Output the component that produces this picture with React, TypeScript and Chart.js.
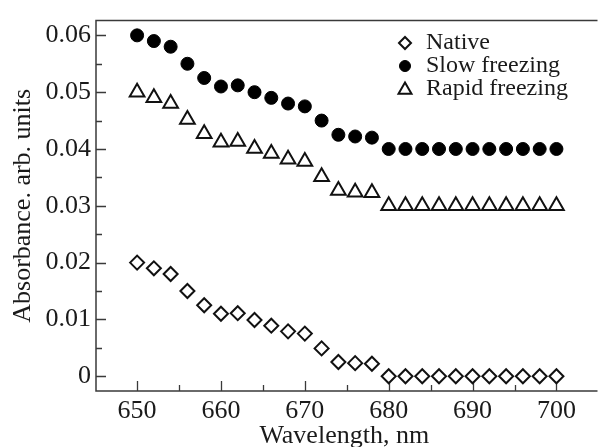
import React, { useEffect, useRef } from 'react';
import { Chart, registerables } from 'chart.js';
import { drawPoint } from 'chart.js/helpers';

Chart.register(...registerables);

const wavelengths = [650, 652, 654, 656, 658, 660, 662, 664, 666, 668, 670, 672, 674, 676, 678, 680, 682, 684, 686, 688, 690, 692, 694, 696, 698, 700];
const nativeValues = [0.02, 0.019, 0.018, 0.015, 0.0125, 0.011, 0.0111, 0.0099, 0.0089, 0.0079, 0.0075, 0.0049, 0.0025, 0.0023, 0.0022, 0, 0, 0, 0, 0, 0, 0, 0, 0, 0, 0];
const slowValues = [0.06, 0.059, 0.058, 0.055, 0.0525, 0.051, 0.0512, 0.05, 0.049, 0.048, 0.0475, 0.045, 0.0425, 0.0422, 0.042, 0.04, 0.04, 0.04, 0.04, 0.04, 0.04, 0.04, 0.04, 0.04, 0.04, 0.04];
const rapidValues = [0.05, 0.049, 0.048, 0.0452, 0.0427, 0.0412, 0.0413, 0.0401, 0.0392, 0.0382, 0.0378, 0.0351, 0.0327, 0.0324, 0.0323, 0.03, 0.03, 0.03, 0.03, 0.03, 0.03, 0.03, 0.03, 0.03, 0.03, 0.03];

const seriesNames = ['Native', 'Slow freezing', 'Rapid freezing'];
const xTickValues = [650, 660, 670, 680, 690, 700];
const xMinorTicks = [655, 665, 675, 685, 695];
const yTickValues = [0, 0.01, 0.02, 0.03, 0.04, 0.05, 0.06];
const yTickLabels = ['0', '0.01', '0.02', '0.03', '0.04', '0.05', '0.06'];
const yMinorTicks = [0.005, 0.015, 0.025, 0.035, 0.045, 0.055];

const FONT = '"Liberation Serif", "Times New Roman", serif';
const AXIS = '#3a3a3a';

const styles = [
  { pointStyle: 'rectRot', radius: 7, fill: '#ffffff', border: '#111111', bw: 2 },
  { pointStyle: 'circle', radius: 6.5, fill: '#000000', border: '#000000', bw: 1 },
  { pointStyle: 'triangle', radius: 8.5, fill: '#ffffff', border: '#111111', bw: 2 },
];

const framePlugin = {
  id: 'frame',
  beforeDatasetsDraw(chart: any) {
    const { ctx, chartArea } = chart;
    const xs = chart.scales.x;
    const ys = chart.scales.y;
    ctx.save();
    ctx.strokeStyle = AXIS;
    ctx.lineWidth = 1.5;
    ctx.beginPath();
    ctx.moveTo(chartArea.right + 5, chartArea.top);
    ctx.lineTo(chartArea.left, chartArea.top);
    ctx.lineTo(chartArea.left, chartArea.bottom);
    ctx.lineTo(chartArea.right + 5, chartArea.bottom);
    ctx.stroke();
    ctx.lineWidth = 1.3;
    ctx.beginPath();
    xTickValues.forEach((v) => {
      const px = Math.round(xs.getPixelForValue(v)) + 0.5;
      ctx.moveTo(px, chartArea.bottom);
      ctx.lineTo(px, chartArea.bottom - 10);
    });
    xMinorTicks.forEach((v) => {
      const px = Math.round(xs.getPixelForValue(v)) + 0.5;
      ctx.moveTo(px, chartArea.bottom);
      ctx.lineTo(px, chartArea.bottom - 6);
    });
    yTickValues.forEach((v) => {
      const py = Math.round(ys.getPixelForValue(v)) + 0.5;
      ctx.moveTo(chartArea.left, py);
      ctx.lineTo(chartArea.left + 10, py);
    });
    yMinorTicks.forEach((v) => {
      const py = Math.round(ys.getPixelForValue(v)) + 0.5;
      ctx.moveTo(chartArea.left, py);
      ctx.lineTo(chartArea.left + 6, py);
    });
    ctx.stroke();
    ctx.restore();
  },
  afterDraw(chart: any) {
    const { ctx } = chart;
    ctx.save();
    const mx = 405;
    const tx = 426;
    const rows = [43, 66, 89];
    ctx.font = `24px ${FONT}`;
    ctx.fillStyle = '#1a1a1a';
    ctx.textBaseline = 'middle';
    ctx.textAlign = 'left';
    seriesNames.forEach((name, i) => {
      const s = styles[i];
      ctx.fillStyle = s.fill;
      ctx.strokeStyle = s.border;
      ctx.lineWidth = s.bw;
      drawPoint(ctx, { pointStyle: s.pointStyle as any, radius: s.radius - 1, rotation: 0, borderWidth: s.bw }, mx, rows[i] + (i === 2 ? 1 : 0));
      ctx.fillStyle = '#1a1a1a';
      ctx.fillText(name, tx, rows[i]);
    });
    ctx.restore();
  },
};

export default function App() {
  const ref = useRef<HTMLCanvasElement>(null);
  useEffect(() => {
    if (!ref.current) return;
    const seriesValues = [nativeValues, slowValues, rapidValues];
    const chart = new Chart(ref.current, {
      type: 'scatter',
      data: {
        datasets: seriesNames.map((name, i) => ({
          label: name,
          data: wavelengths.map((w, j) => ({ x: w, y: seriesValues[i][j] })),
          pointStyle: styles[i].pointStyle as any,
          pointRadius: styles[i].radius,
          pointBackgroundColor: styles[i].fill,
          pointBorderColor: styles[i].border,
          pointBorderWidth: styles[i].bw,
          showLine: false,
          clip: false as any,
        })),
      },
      options: {
        responsive: false,
        animation: false,
        layout: { padding: { top: 12, left: 0, right: 0, bottom: 0 } },
        plugins: { legend: { display: false }, tooltip: { enabled: false } },
        scales: {
          x: {
            type: 'linear',
            min: 645.1,
            max: 704.3,
            grid: { display: false, drawTicks: false },
            border: { display: false },
            afterFit: (s: any) => { s.height = 56; },
            afterBuildTicks: (s: any) => { s.ticks = xTickValues.map((v) => ({ value: v })); },
            ticks: {
              autoSkip: false,
              maxRotation: 0,
              padding: 5,
              color: '#1a1a1a',
              font: { family: FONT, size: 26 },
              callback: (v: any) => String(v),
            },
            title: {
              display: true,
              text: 'Wavelength, nm',
              color: '#1a1a1a',
              font: { family: FONT, size: 26, lineHeight: 0.8 },
              padding: { top: 0, bottom: 0 },
            },
          },
          y: {
            type: 'linear',
            min: -0.0026,
            max: 0.0626,
            grid: { display: false, drawTicks: false },
            border: { display: false },
            afterFit: (s: any) => { s.width = 96; },
            afterBuildTicks: (s: any) => { s.ticks = yTickValues.map((v) => ({ value: v })); },
            ticks: {
              autoSkip: false,
              padding: 5,
              color: '#1a1a1a',
              font: { family: FONT, size: 26 },
              callback: (v: any) => {
                const idx = yTickValues.findIndex((t) => Math.abs(t - v) < 1e-9);
                return idx >= 0 ? yTickLabels[idx] : '';
              },
            },
            title: {
              display: true,
              text: 'Absorbance. arb. units',
              color: '#1a1a1a',
              font: { family: FONT, size: 26, lineHeight: 1 },
              padding: { top: 10, bottom: 0 },
            },
          },
        },
      },
      plugins: [framePlugin],
    });
    return () => chart.destroy();
  }, []);
  return (
    <div style={{ position: 'absolute', left: 0, top: 0, width: 603, height: 447, background: '#fff' }}>
      <canvas ref={ref} width={603} height={447} style={{ display: 'block' }} />
    </div>
  );
}
